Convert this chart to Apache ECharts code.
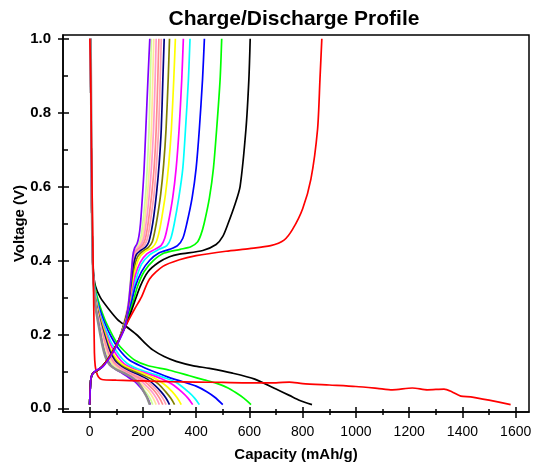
<!DOCTYPE html>
<html><head><meta charset="utf-8">
<script src="https://cdn.jsdelivr.net/npm/echarts@6/dist/echarts.min.js"></script>
<style>html,body{margin:0;padding:0;background:#fff}#c{width:534px;height:464px}</style>
</head><body><div id="c"></div>
<script>
// Tick labels
const xTicks = [0,200,400,600,800,1000,1200,1400,1600];
const xMinor = [100,300,500,700,900,1100,1300,1500];
const yTicks = [0,0.2,0.4,0.6,0.8,1.0];
const yMinor = [0.1,0.3,0.5,0.7,0.9];

// Discharge curves [capacity mAh/g, voltage V]
const d1 = [[1,1.0],[4,0.9],[7,0.7],[11,0.5],[14,0.35],[16,0.25],[18,0.15],[21,0.115],[26,0.097],[34,0.084],[46,0.078],[100,0.076],[200,0.074],[300,0.072],[400,0.071],[500,0.07],[600,0.069],[700,0.069],[750,0.071],[800,0.067],[900,0.063],[1000,0.059],[1080,0.054],[1137,0.05],[1212,0.055],[1269,0.05],[1331,0.052],[1360,0.045],[1394,0.033],[1431,0.031],[1500,0.022],[1581,0.01]];
const d2 = [[3,1.0],[5,0.8],[7,0.6],[10,0.45],[14,0.37],[22,0.33],[40,0.30],[70,0.27],[105,0.24],[140,0.22],[180,0.197],[210,0.175],[237,0.158],[280,0.14],[325,0.127],[390,0.115],[450,0.108],[537,0.095],[620,0.079],[700,0.052],[750,0.035],[787,0.022],[835,0.01]];
const d3 = [[3,1.0],[5,0.8],[7,0.6],[10,0.45],[14,0.36],[22,0.32],[37,0.28],[57,0.24],[77,0.21],[100,0.18],[130,0.155],[170,0.13],[220,0.115],[300,0.103],[375,0.088],[430,0.077],[475,0.068],[520,0.055],[550,0.042],[580,0.027],[606,0.01]];
const d4 = [[3,1.0],[5,0.8],[7,0.6],[10,0.45],[14,0.36],[22,0.31],[37,0.27],[57,0.23],[80,0.195],[110,0.16],[150,0.13],[200,0.112],[250,0.097],[300,0.083],[350,0.072],[400,0.06],[440,0.045],[470,0.03],[500,0.01]];
const d5 = [[3,1.0],[5,0.8],[7,0.6],[10,0.45],[14,0.35],[22,0.31],[37,0.26],[57,0.22],[80,0.18],[110,0.145],[140,0.122],[180,0.107],[230,0.095],[280,0.083],[330,0.068],[370,0.045],[395,0.027],[412,0.01]];
const d6 = [[3,1.0],[5,0.8],[7,0.6],[10,0.45],[14,0.35],[22,0.30],[37,0.255],[57,0.21],[80,0.17],[105,0.14],[130,0.12],[170,0.105],[220,0.093],[270,0.08],[310,0.065],[345,0.045],[370,0.027],[387,0.01]];
const d7 = [[3,1.0],[5,0.8],[7,0.6],[10,0.45],[14,0.35],[22,0.30],[37,0.25],[57,0.205],[76,0.165],[100,0.135],[125,0.118],[160,0.105],[200,0.095],[240,0.083],[280,0.065],[310,0.045],[330,0.027],[344,0.01]];
const d8 = [[3,1.0],[5,0.8],[7,0.6],[10,0.45],[14,0.35],[22,0.295],[37,0.245],[56,0.2],[75,0.16],[95,0.132],[120,0.115],[150,0.104],[190,0.093],[230,0.08],[260,0.065],[285,0.045],[305,0.027],[319,0.01]];
const d9 = [[3,1.0],[5,0.8],[7,0.6],[10,0.45],[14,0.35],[22,0.29],[37,0.24],[56,0.195],[75,0.155],[95,0.128],[120,0.112],[150,0.1],[185,0.09],[220,0.077],[245,0.062],[268,0.045],[287,0.027],[300,0.01]];
const d10 = [[3,1.0],[5,0.8],[7,0.6],[10,0.45],[14,0.35],[22,0.288],[37,0.237],[55,0.19],[72,0.152],[92,0.126],[118,0.11],[145,0.099],[178,0.088],[212,0.076],[236,0.061],[257,0.045],[275,0.027],[287,0.01]];
const d11 = [[3,1.0],[5,0.8],[7,0.6],[10,0.45],[14,0.35],[22,0.286],[36,0.234],[53,0.186],[70,0.15],[90,0.124],[115,0.108],[140,0.098],[170,0.087],[203,0.075],[226,0.06],[246,0.045],[263,0.027],[275,0.01]];
const d12 = [[3,1.0],[5,0.8],[7,0.6],[10,0.45],[14,0.35],[22,0.284],[36,0.231],[51,0.183],[68,0.147],[88,0.122],[112,0.107],[135,0.097],[162,0.086],[193,0.074],[215,0.059],[234,0.045],[251,0.027],[262,0.01]];
const d13 = [[3,1.0],[5,0.8],[7,0.6],[10,0.45],[14,0.35],[22,0.282],[36,0.228],[50,0.18],[66,0.144],[86,0.12],[108,0.106],[130,0.096],[155,0.085],[184,0.073],[205,0.058],[223,0.045],[239,0.027],[250,0.01]];
const d14 = [[3,1.0],[5,0.8],[7,0.6],[10,0.45],[14,0.35],[22,0.28],[36,0.225],[49,0.177],[64,0.141],[83,0.118],[104,0.105],[125,0.095],[148,0.084],[175,0.072],[195,0.057],[212,0.043],[227,0.027],[237,0.01]];
const d15 = [[3,1.0],[5,0.8],[7,0.6],[10,0.45],[14,0.35],[22,0.278],[36,0.222],[48,0.175],[62,0.139],[80,0.116],[100,0.104],[122,0.095],[145,0.084],[170,0.072],[190,0.057],[205,0.043],[218,0.027],[228,0.01]];
const d16 = [[4,1.0],[6,0.8],[8,0.6],[10,0.45],[14,0.35],[22,0.275],[36,0.215],[48,0.17],[60,0.138],[75,0.118],[100,0.105],[130,0.095],[160,0.083],[185,0.068],[200,0.05],[215,0.03],[226,0.01]];

// Charge curves [capacity mAh/g, voltage V]
const c1 = [[0,0.01],[2,0.05],[5,0.08],[12,0.095],[25,0.10],[50,0.115],[80,0.145],[110,0.185],[140,0.23],[170,0.27],[194,0.30],[225,0.35],[275,0.384],[337,0.402],[400,0.413],[512,0.425],[600,0.432],[680,0.44],[730,0.455],[762,0.484],[800,0.54],[831,0.62],[856,0.755],[865,0.89],[872,1.0]];
const c2 = [[0,0.01],[2,0.05],[5,0.08],[12,0.095],[25,0.10],[50,0.115],[80,0.145],[110,0.185],[140,0.23],[165,0.28],[190,0.33],[220,0.37],[260,0.395],[300,0.41],[337,0.417],[425,0.427],[475,0.443],[500,0.465],[520,0.5],[545,0.55],[565,0.6],[587,0.755],[598,0.89],[603,1.0]];
const c3 = [[0,0.01],[2,0.05],[5,0.08],[12,0.095],[25,0.10],[50,0.115],[80,0.145],[110,0.185],[140,0.235],[160,0.28],[180,0.33],[205,0.37],[240,0.40],[280,0.42],[340,0.43],[380,0.437],[405,0.45],[418,0.47],[430,0.5],[450,0.57],[465,0.65],[477,0.755],[490,0.89],[496,1.0]];
const c4 = [[0,0.01],[2,0.05],[5,0.08],[12,0.095],[25,0.10],[50,0.115],[80,0.145],[110,0.185],[140,0.24],[155,0.28],[172,0.33],[195,0.37],[225,0.40],[260,0.42],[300,0.43],[330,0.44],[350,0.46],[365,0.5],[385,0.57],[400,0.65],[412,0.755],[424,0.89],[431,1.0]];
const c5 = [[0,0.01],[2,0.05],[5,0.08],[12,0.095],[25,0.10],[50,0.115],[80,0.145],[110,0.185],[145,0.25],[160,0.30],[175,0.35],[195,0.39],[225,0.415],[260,0.43],[290,0.44],[305,0.46],[318,0.5],[335,0.57],[350,0.65],[360,0.755],[371,0.89],[377,1.0]];
const c6 = [[0,0.01],[2,0.05],[5,0.08],[12,0.095],[25,0.10],[50,0.115],[80,0.145],[110,0.185],[148,0.26],[160,0.31],[172,0.36],[190,0.395],[215,0.418],[245,0.43],[268,0.44],[282,0.46],[295,0.5],[312,0.57],[325,0.65],[336,0.755],[346,0.89],[352,1.0]];
const c7 = [[0,0.01],[2,0.05],[5,0.08],[12,0.095],[25,0.10],[50,0.115],[80,0.145],[110,0.185],[150,0.27],[160,0.32],[170,0.37],[185,0.405],[210,0.425],[235,0.435],[250,0.45],[262,0.48],[272,0.52],[285,0.58],[297,0.66],[307,0.755],[316,0.89],[322,1.0]];
const c8 = [[0,0.01],[2,0.05],[5,0.08],[12,0.095],[25,0.10],[50,0.115],[80,0.145],[110,0.185],[150,0.28],[160,0.33],[168,0.38],[180,0.41],[200,0.425],[220,0.435],[235,0.45],[245,0.48],[255,0.52],[267,0.58],[278,0.66],[287,0.755],[295,0.89],[300,1.0]];
const c9 = [[0,0.01],[2,0.05],[5,0.08],[12,0.095],[25,0.10],[50,0.115],[80,0.145],[110,0.185],[150,0.285],[158,0.335],[165,0.385],[175,0.415],[192,0.427],[210,0.436],[222,0.45],[232,0.48],[241,0.52],[251,0.58],[261,0.66],[269,0.755],[275,0.89],[280,1.0]];
const c10 = [[0,0.01],[2,0.05],[5,0.08],[12,0.095],[25,0.10],[50,0.115],[80,0.145],[110,0.185],[148,0.28],[156,0.335],[163,0.39],[172,0.42],[188,0.43],[204,0.44],[215,0.455],[224,0.485],[232,0.525],[242,0.58],[251,0.66],[259,0.755],[265,0.89],[269,1.0]];
const c11 = [[0,0.01],[2,0.05],[5,0.08],[12,0.095],[25,0.10],[50,0.115],[80,0.145],[110,0.185],[147,0.28],[155,0.335],[162,0.39],[170,0.422],[185,0.432],[199,0.442],[209,0.458],[217,0.488],[225,0.53],[234,0.585],[243,0.66],[250,0.755],[256,0.89],[260,1.0]];
const c12 = [[0,0.01],[2,0.05],[5,0.08],[12,0.095],[25,0.10],[50,0.115],[80,0.145],[110,0.185],[146,0.28],[154,0.335],[161,0.39],[169,0.424],[182,0.434],[194,0.444],[203,0.46],[210,0.49],[217,0.53],[225,0.585],[233,0.66],[240,0.755],[246,0.89],[250,1.0]];
const c13 = [[0,0.01],[2,0.05],[5,0.08],[12,0.095],[25,0.10],[50,0.115],[80,0.145],[110,0.185],[145,0.28],[153,0.335],[160,0.39],[168,0.426],[180,0.436],[190,0.446],[198,0.462],[204,0.49],[210,0.53],[218,0.585],[225,0.66],[232,0.755],[237,0.89],[241,1.0]];
const c14 = [[0,0.01],[2,0.05],[5,0.08],[12,0.095],[25,0.10],[50,0.115],[80,0.145],[110,0.185],[144,0.28],[152,0.335],[159,0.39],[167,0.428],[178,0.438],[186,0.448],[193,0.464],[198,0.49],[204,0.53],[211,0.585],[217,0.66],[223,0.755],[228,0.89],[232,1.0]];
const c15 = [[0,0.01],[3,0.06],[6,0.085],[19,0.10],[50,0.113],[87,0.15],[119,0.195],[135,0.225],[147,0.29],[156,0.357],[162,0.411],[169,0.434],[178,0.445],[185,0.465],[191,0.5],[197,0.56],[204,0.64],[211,0.755],[219,0.89],[226,1.0]];

const dischargeSets = [d2,d3,d4,d5,d6,d7,d8,d9,d10,d11,d12,d13,d14,d15,d16,d1];
const dischargeColors = ['#000000','#00ff00','#0000ff','#00ffff','#ff00ff','#ffff00','#808000','#000080','#ffa0b4','#ff8c8c','#ff99cc','#ffe699','#ccff99','#8000ff','#8c8c8c','#ff0000'];
const chargeSets = [c1,c2,c3,c4,c5,c6,c7,c8,c9,c10,c11,c12,c13,c14,c15];
const chargeColors = ['#ff0000','#000000','#00ff00','#0000ff','#00ffff','#ff00ff','#ffff00','#808000','#000080','#ffa0b4','#ff8c8c','#ff99cc','#ffe699','#ccff99','#8000ff'];

const series = [];
dischargeSets.forEach((d,i)=>series.push({type:'line',data:d,showSymbol:false,smooth:0.25,silent:true,
  lineStyle:{color:dischargeColors[i],width:dischargeColors[i]==='#8c8c8c'?2.4:1.7},itemStyle:{color:dischargeColors[i]}}));
chargeSets.slice().reverse().forEach((d,j)=>{const i=chargeSets.length-1-j; series.push({type:'line',data:d,showSymbol:false,smooth:0.25,silent:true,
  lineStyle:{color:chargeColors[i],width:1.7},itemStyle:{color:chargeColors[i]}});});
// purple charge on top
series.push(series.splice(series.findIndex(s=>s.data===c15),1)[0]);

const font = 'Liberation Sans, Arial, sans-serif';
const base = {min:-100,max:1650,type:'value',position:'bottom',splitLine:{show:false}};
const ybase = {min:-0.01,max:1.01,type:'value',position:'left',splitLine:{show:false}};
const tickLine = {color:'#000',width:1.5};
const noLine = {show:false,onZero:false};
const chart = echarts.init(document.getElementById('c'),null,{renderer:'canvas'});
chart.setOption({
  animation:false,
  backgroundColor:'#fff',
  title:{text:'Charge/Discharge Profile',left:289,top:4,textAlign:'center',
    textStyle:{fontFamily:font,fontSize:21,fontWeight:'bold',color:'#000'}},
  grid:{left:63,right:5,top:35,bottom:52,show:true,borderColor:'#000',borderWidth:1.5,backgroundColor:'transparent',
    containLabel:false,outerBoundsMode:'none'},
  xAxis:[
    Object.assign({},base,{name:'Capacity (mAh/g)',nameLocation:'middle',nameGap:35,
      nameTextStyle:{fontFamily:font,fontSize:15,fontWeight:'bold',color:'#000'},
      axisLine:{show:true,onZero:false,lineStyle:tickLine},
      axisTick:{show:true,customValues:xTicks,length:6,inside:false,lineStyle:tickLine},
      axisLabel:{customValues:xTicks,fontFamily:font,fontSize:14,color:'#000',margin:13,
        formatter:v=>String(v)}}),
    Object.assign({},base,{axisLine:noLine,axisLabel:{show:false},
      axisTick:{show:true,customValues:xTicks,length:5,inside:true,lineStyle:tickLine}}),
    Object.assign({},base,{axisLine:noLine,axisLabel:{show:false},
      axisTick:{show:true,customValues:xMinor,length:3,inside:true,lineStyle:tickLine}}),
    Object.assign({},base,{axisLine:noLine,axisLabel:{show:false},
      axisTick:{show:true,customValues:xMinor,length:3,inside:false,lineStyle:tickLine}})
  ],
  yAxis:[
    Object.assign({},ybase,{name:'Voltage (V)',nameLocation:'middle',nameGap:36,nameRotate:90,nameMoveOverlap:false,
      nameTextStyle:{fontFamily:font,fontSize:15,fontWeight:'bold',color:'#000'},
      axisLine:{show:true,onZero:false,lineStyle:tickLine},
      axisTick:{show:true,customValues:yTicks,length:5,inside:false,lineStyle:tickLine},
      axisLabel:{customValues:yTicks,fontFamily:font,fontSize:15,fontWeight:'bold',color:'#000',margin:12,
        formatter:v=>v.toFixed(1)}}),
    Object.assign({},ybase,{axisLine:noLine,axisLabel:{show:false},
      axisTick:{show:true,customValues:yTicks,length:6,inside:true,lineStyle:tickLine}}),
    Object.assign({},ybase,{axisLine:noLine,axisLabel:{show:false},
      axisTick:{show:true,customValues:yMinor,length:5,inside:true,lineStyle:tickLine}})
  ],
  series: series
});
</script></body></html>
